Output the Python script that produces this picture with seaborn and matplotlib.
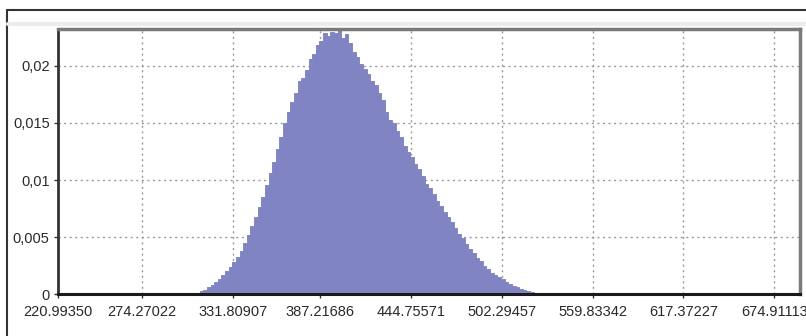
import numpy as np
import pandas as pd
import matplotlib
matplotlib.use("Agg")
import matplotlib.pyplot as plt
from matplotlib.ticker import FuncFormatter
from matplotlib.lines import Line2D
import seaborn as sns

# ---- data ----
bin_origin = 220.99350
bin_width = 2.30155
first_bin = 37  # index of first non-empty bin
freq = [
    0.00005, 0.0001, 0.0003, 0.0004, 0.0006, 0.0008, 0.0011, 0.0013, 0.0017, 0.0020,
    0.0024, 0.0028, 0.0033, 0.0038, 0.0045, 0.0052, 0.0060, 0.0068, 0.0076, 0.0085,
    0.0096, 0.0106, 0.0116, 0.0127, 0.0138, 0.0150, 0.0160, 0.0168, 0.0176, 0.0187,
    0.0189, 0.0196, 0.0206, 0.0210, 0.0218, 0.0222, 0.0229, 0.0226, 0.0230, 0.0229,
    0.0232, 0.0224, 0.0228, 0.0220, 0.0212, 0.0208, 0.0202, 0.0197, 0.0193, 0.0187,
    0.0183, 0.0176, 0.0170, 0.0160, 0.0153, 0.0150, 0.0143, 0.0138, 0.0130, 0.0125,
    0.0120, 0.0114, 0.0110, 0.0104, 0.0097, 0.0093, 0.0088, 0.0082, 0.0077, 0.0072,
    0.0068, 0.0063, 0.0058, 0.0053, 0.0049, 0.0044, 0.0040, 0.0036, 0.0032, 0.0029,
    0.0025, 0.0022, 0.0019, 0.0017, 0.0015, 0.0013, 0.0011, 0.0009, 0.0007, 0.0006,
    0.0005, 0.0004, 0.0003, 0.0002, 0.0001, 0.00007, 0.00004, 0.00002,
]
x_ticks = [220.99350, 274.27022, 331.80907, 387.21686, 444.75571,
           502.29457, 559.83342, 617.37227, 674.91113]
x_tick_labels = ["220.99350", "274.27022", "331.80907", "387.21686", "444.75571",
                 "502.29457", "559.83342", "617.37227", "674.91113"]
y_ticks = [0, 0.005, 0.01, 0.015, 0.02]
x_max = 691.3
y_max = 0.0232

n = len(freq)
idx = np.arange(first_bin, first_bin + n)
centers = bin_origin + (idx + 0.5) * bin_width
lo = bin_origin + first_bin * bin_width
hi = lo + n * bin_width
df = pd.DataFrame({"value": centers, "p": freq})

# ---- style ----
sns.set_theme(style="white")
plt.rcParams["font.family"] = ["Liberation Sans", "DejaVu Sans"]

fig = plt.figure(figsize=(8.06, 3.36), dpi=100)
ax = fig.add_axes([58 / 806, 1 - 294.3 / 336, (800 - 58) / 806, (294.3 - 29.3) / 336])

sns.histplot(data=df, x="value", weights="p", binwidth=bin_width, binrange=(lo, hi),
             element="step", fill=True, color="#8084C2", alpha=1.0, linewidth=0.6,
             edgecolor="#7C80BF", ax=ax, zorder=2)

ax.set_xlim(bin_origin, x_max)
ax.set_ylim(0, y_max)
ax.set_xticks(x_ticks)
ax.set_xticklabels(x_tick_labels)
ax.set_yticks(y_ticks)
ax.yaxis.set_major_formatter(FuncFormatter(lambda v, p: "0" if v == 0 else f"{v:g}".replace(".", ",")))
ax.set_xlabel("")
ax.set_ylabel("")

ax.grid(True, color="#9a9a9a", linestyle=(0, (1.5, 2.5)), linewidth=1.0, zorder=1)
ax.set_axisbelow(True)
ax.tick_params(axis="both", labelsize=10.5, colors="#333333", length=3, width=1,
               direction="out", pad=5, bottom=True, left=True)
ax.tick_params(axis="y", pad=3)
for lab in ax.get_xticklabels() + ax.get_yticklabels():
    lab.set_color("#2a2a2a")

ax.spines["left"].set_color("#333333")
ax.spines["left"].set_linewidth(2)
ax.spines["bottom"].set_color("#1a1a1a")
ax.spines["bottom"].set_linewidth(2.2)
ax.spines["top"].set_color("#7a7a7a")
ax.spines["top"].set_linewidth(2.5)
ax.spines["right"].set_color("#7a7a7a")
ax.spines["right"].set_linewidth(2.5)
for s in ax.spines.values():
    s.set_zorder(5)

# outer window frame
W, H = 806, 336
fig.add_artist(Line2D([7 / W, 1], [1 - 10 / H, 1 - 10 / H], color="#333333", lw=1.5))
fig.add_artist(Line2D([7 / W, 7 / W], [0, 1 - 10 / H], color="#333333", lw=1.5))
fig.add_artist(Line2D([8 / W, 1], [1 - 24 / H, 1 - 24 / H], color="#ececec", lw=3))

fig.savefig("out.png", dpi=100)
